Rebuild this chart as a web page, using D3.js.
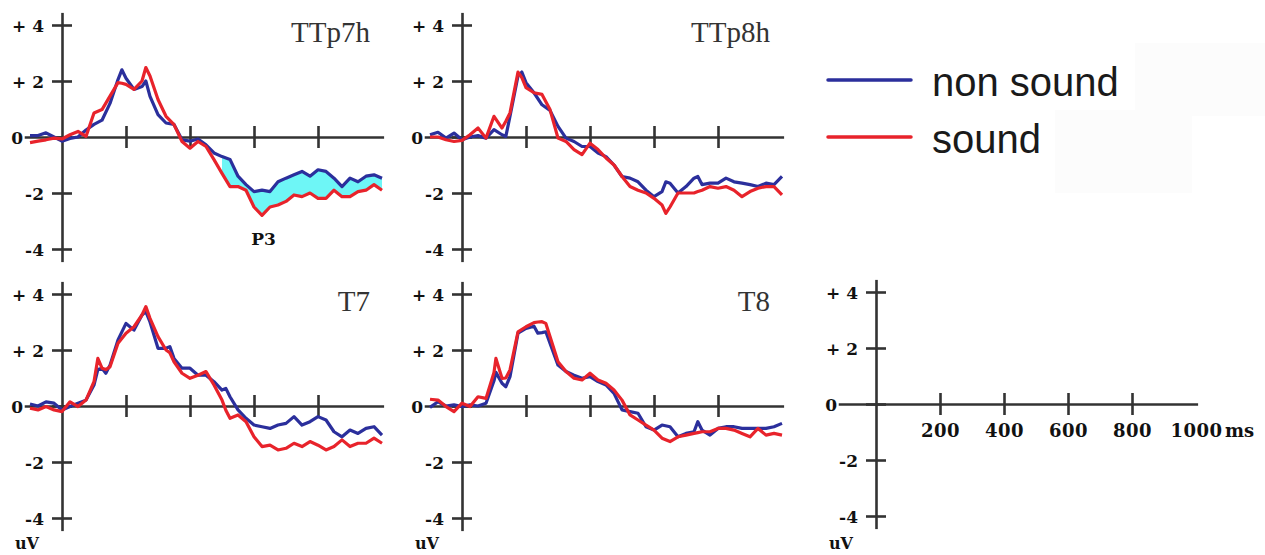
<!DOCTYPE html>
<html lang="en">
<head>
<meta charset="UTF-8">
<title>ERP waveforms</title>
<script src="https://d3js.org/d3.v7.min.js"></script>
<style>
  body { margin: 0; background: #fff; }
  svg { display: block; }
</style>
</head>
<body>
<svg id="chart" width="1265" height="555"></svg>
<script>
// time points (ms) and amplitudes (uV), read per electrode
const ttp7hTimes = [-100,-75,-50,-25,0,25,50,75,100,125,150,175,187,200,225,250,262,275,300,325,350,375,400,425,450,475,500,525,550,575,600,625,650,675,700,725,750,775,800,825,850,875,900,925,950,975,1000];
const ttp7hNonSound = [0.05,0.05,0.15,0,-0.15,-0.05,0,0.25,0.45,0.6,1.2,2.05,2.4,2.1,1.7,1.8,2.0,1.45,0.8,0.5,0.45,-0.1,-0.15,-0.07,-0.28,-0.57,-0.7,-0.8,-1.4,-1.7,-1.95,-1.9,-1.95,-1.6,-1.47,-1.35,-1.23,-1.4,-1.17,-1.23,-1.47,-1.77,-1.47,-1.6,-1.4,-1.35,-1.47];
const ttp7hSound = [-0.2,-0.15,-0.1,-0.04,-0.07,0.08,0.2,0.02,0.86,0.98,1.46,1.94,1.92,1.88,1.7,2.0,2.48,2.18,1.34,0.74,0.44,-0.16,-0.4,-0.16,-0.34,-0.81,-1.3,-1.77,-1.77,-1.9,-2.5,-2.8,-2.5,-2.43,-2.3,-2.07,-2.13,-2.0,-2.19,-2.19,-1.9,-2.13,-2.13,-1.95,-1.9,-1.7,-1.9];

const ttp8hTimes = [-100,-75,-50,-25,0,25,50,75,100,125,137,150,175,187,200,225,250,275,300,325,350,375,400,425,450,475,500,525,550,575,600,625,637,650,675,700,725,737,750,775,800,825,850,875,900,925,950,975,1000];
const ttp8hNonSound = [0.08,0.17,-0.04,0.14,-0.1,0,0.05,-0.04,0.26,0.08,0.02,0.74,2.18,2.32,1.94,1.58,1.15,0.95,0.38,-0.04,-0.16,-0.34,-0.34,-0.57,-0.7,-1.0,-1.41,-1.47,-1.6,-1.9,-2.13,-1.95,-1.6,-1.65,-2.0,-1.77,-1.47,-1.41,-1.7,-1.65,-1.65,-1.47,-1.6,-1.65,-1.7,-1.77,-1.65,-1.7,-1.41];
const ttp8hSound = [0,0,-0.1,-0.16,-0.12,0.08,0.32,-0.04,0.74,0.32,0.56,0.86,2.32,2.12,1.76,1.58,1.52,0.98,-0.04,-0.16,-0.45,-0.63,-0.22,-0.45,-0.75,-1.0,-1.41,-1.77,-1.9,-2.0,-2.19,-2.43,-2.73,-2.5,-2.0,-2.0,-2.0,-1.95,-1.9,-1.77,-1.83,-1.77,-1.9,-2.13,-1.95,-1.83,-1.77,-1.77,-2.07];

const t7Times = [-100,-75,-50,-25,0,25,50,75,100,112,125,137,150,175,200,225,250,262,275,300,325,337,350,375,400,425,450,475,500,512,525,550,575,600,625,650,675,700,725,750,775,800,825,850,875,900,925,950,975,1000];
const t7NonSound = [0.07,0,0.15,0.1,-0.14,-0.02,0.1,0.21,0.75,1.3,1.35,1.17,1.46,2.36,2.95,2.71,3.25,3.37,3.0,2.06,2.06,2.12,1.7,1.35,1.35,1.1,1.1,0.87,0.57,0.63,0.33,-0.14,-0.44,-0.68,-0.74,-0.8,-0.68,-0.62,-0.38,-0.68,-0.56,-0.38,-0.5,-0.92,-1.1,-0.86,-0.98,-0.8,-0.74,-1.04];
const t7Sound = [-0.08,-0.14,-0.02,-0.14,-0.2,0.15,-0.02,0.21,0.87,1.7,1.35,1.3,1.4,2.24,2.6,2.83,3.25,3.55,3.13,2.48,2.0,1.9,1.58,1.17,0.99,1.1,1.23,0.75,0.21,-0.15,-0.44,-0.32,-0.56,-1.1,-1.45,-1.4,-1.57,-1.51,-1.33,-1.45,-1.27,-1.4,-1.57,-1.45,-1.21,-1.45,-1.33,-1.33,-1.15,-1.33];

const t8Times = [-100,-75,-50,-25,0,25,50,75,100,106,125,137,150,175,200,225,237,250,262,275,300,325,350,375,400,425,450,475,500,525,550,575,600,625,650,675,700,725,737,750,775,800,825,850,875,900,925,950,975,1000];
const t8NonSound = [-0.05,0.15,0,0.04,-0.02,0.04,0,0.1,0.9,1.2,0.81,0.69,1.05,2.6,2.77,2.85,2.6,2.62,2.65,2.24,1.46,1.23,1.1,0.99,1.05,0.87,0.75,0.45,-0.14,-0.2,-0.26,-0.74,-0.86,-0.68,-0.74,-1.1,-0.98,-0.92,-0.56,-0.86,-1.04,-0.8,-0.74,-0.74,-0.8,-0.8,-0.8,-0.8,-0.74,-0.62];
const t8Sound = [0.24,0.21,-0.02,-0.2,0.1,-0.02,0.33,0.27,1.2,1.7,0.99,1.0,1.29,2.65,2.83,2.98,3.0,3.01,2.95,2.48,1.58,1.23,0.99,0.93,1.17,0.93,0.81,0.57,0.21,-0.32,-0.5,-0.68,-0.86,-1.15,-1.27,-1.1,-1.04,-0.98,-0.95,-0.92,-0.92,-0.8,-0.8,-0.86,-0.98,-1.1,-0.8,-1.04,-0.98,-1.04];

const yTicks = [-4, -2, 0, 2, 4];
const xTicks = [200, 400, 600, 800];
const xLabels = [200, 400, 600, 800, 1000];
const legendLabels = ["non sound", "sound"];
const shadeFrom = 490; // P3 difference shading starts here (ms)

const BLUE = "#2b2f9c", RED = "#e8232b", AXIS = "#333";

const svg = d3.select("#chart");

// faint background patches behind the legend
svg.append("rect").attr("x", 1135).attr("y", 43).attr("width", 130).attr("height", 73).attr("fill", "#fcfcfc");
svg.append("rect").attr("x", 1055).attr("y", 110).attr("width", 137).attr("height", 83).attr("fill", "#fcfcfc");

const x = d3.scaleLinear().domain([-118, 1005]).range([-37.76, 321.6]);
const y = d3.scaleLinear().domain([-4.45, 4.45]).range([124.6, -124.6]);

const panels = [
  { title: "TTp7h", times: ttp7hTimes, a: ttp7hNonSound, b: ttp7hSound, ox: 62, oy: 137, shade: true },
  { title: "TTp8h", times: ttp8hTimes, a: ttp8hNonSound, b: ttp8hSound, ox: 462, oy: 137 },
  { title: "T7", times: t7Times, a: t7NonSound, b: t7Sound, ox: 62, oy: 406, unit: true },
  { title: "T8", times: t8Times, a: t8NonSound, b: t8Sound, ox: 462, oy: 406, unit: true },
  { title: null, ox: 876, oy: 404, unit: true, labels: true }
];

function drawAxes(g, p) {
  const xa = g.append("g")
    .call(d3.axisBottom(x).tickValues(xTicks).tickSize(0).tickSizeOuter(0).tickFormat(""));
  xa.selectAll(".tick line").attr("y1", -11).attr("y2", 11);

  const ya = g.append("g")
    .call(d3.axisLeft(y).tickValues(yTicks).tickSize(0).tickSizeOuter(0).tickPadding(0)
      .tickFormat(d => d > 0 ? "+ " + d : String(d)));
  ya.selectAll(".tick line").attr("x1", -10).attr("x2", 10);
  ya.selectAll(".tick text")
    .attr("x", d => d === 0 ? -39 : -18)
    .attr("dy", "0.36em")
    .attr("font-family", "DejaVu Serif")
    .attr("font-weight", "bold")
    .attr("font-size", 17)
    .attr("fill", "#111");

  g.selectAll(".domain, .tick line").attr("stroke", AXIS).attr("stroke-width", 2.6);

  if (p.labels) {
    const lab = g.append("g")
      .call(d3.axisBottom(x).tickValues(xLabels).tickSize(0).tickPadding(0).tickFormat(d3.format("d")));
    lab.select(".domain").remove();
    lab.selectAll(".tick text")
      .attr("y", 33)
      .attr("dy", 0)
      .attr("font-family", "DejaVu Serif")
      .attr("font-weight", "bold")
      .attr("font-size", 18)
      .attr("letter-spacing", 0.5)
      .attr("fill", "#111");
    g.append("text")
      .attr("x", x(1000) + 29).attr("y", 33)
      .attr("font-family", "DejaVu Serif").attr("font-weight", "bold")
      .attr("font-size", 18).attr("fill", "#111")
      .text("ms");
  }

  if (p.unit) {
    g.append("text")
      .attr("x", -35).attr("y", 549 - p.oy)
      .attr("text-anchor", "middle")
      .attr("font-family", "DejaVu Serif").attr("font-weight", "bold")
      .attr("font-size", 16).attr("fill", "#111")
      .text("uV");
  }
}

panels.forEach(p => {
  const g = svg.append("g").attr("transform", `translate(${p.ox},${p.oy})`);
  drawAxes(g, p);
  if (!p.times) return;

  const idx = d3.range(p.times.length);

  if (p.shade) {
    const area = d3.area()
      .defined(i => p.times[i] >= shadeFrom)
      .x(i => x(p.times[i]))
      .y0(i => y(p.b[i]))
      .y1(i => y(p.a[i]));
    g.append("path").datum(idx).attr("d", area).attr("fill", "#6ef6f6");
  }

  const line = vals => d3.line().x(i => x(p.times[i])).y(i => y(vals[i]));
  g.append("path").datum(idx).attr("d", line(p.a))
    .attr("fill", "none").attr("stroke", BLUE).attr("stroke-width", 3.2).attr("stroke-linejoin", "round");
  g.append("path").datum(idx).attr("d", line(p.b))
    .attr("fill", "none").attr("stroke", RED).attr("stroke-width", 3.2).attr("stroke-linejoin", "round");

  g.append("text")
    .attr("x", 308).attr("y", -95)
    .attr("text-anchor", "end")
    .attr("font-family", "Liberation Serif")
    .attr("font-size", 29)
    .attr("fill", "#333")
    .text(p.title);

  if (p.shade) {
    g.append("text")
      .attr("x", x(630)).attr("y", 108)
      .attr("text-anchor", "middle")
      .attr("font-family", "DejaVu Serif").attr("font-weight", "bold")
      .attr("font-size", 17).attr("fill", "#111")
      .text("P3");
  }
});

// legend
const legend = svg.append("g");
legendLabels.forEach((name, i) => {
  const ly = 80 + i * 57;
  legend.append("line")
    .attr("x1", 828).attr("x2", 911).attr("y1", ly).attr("y2", ly)
    .attr("stroke", i === 0 ? BLUE : RED).attr("stroke-width", 3.5).attr("stroke-linecap", "round");
  legend.append("text")
    .attr("x", 932).attr("y", ly + 16)
    .attr("font-family", "Liberation Sans")
    .attr("font-size", 40)
    .attr("fill", "#1a1a1a")
    .text(name);
});
</script>
</body>
</html>
